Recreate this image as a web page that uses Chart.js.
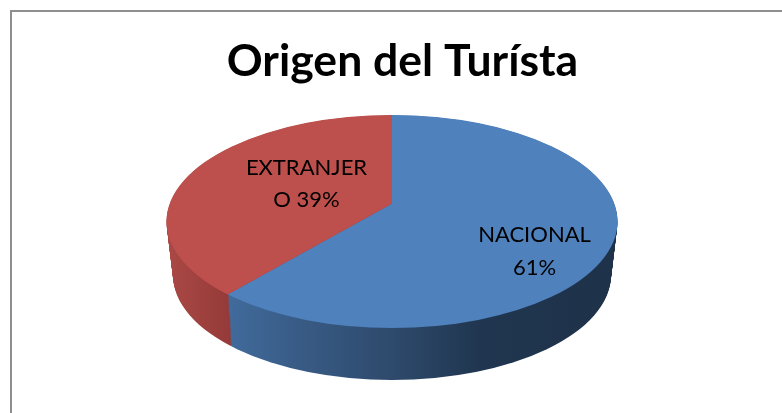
<!DOCTYPE html>
<html>
<head>
<meta charset="utf-8">
<script src="https://cdn.jsdelivr.net/npm/chart.js@4"></script>
<style>
  html, body { margin: 0; padding: 0; width: 782px; height: 413px; overflow: hidden; background: #fff; }
  #frame { position: absolute; left: 10px; top: 10px; width: 800px; height: 420px; border-left: 2px solid #8e8e8e; border-top: 2px solid #8e8e8e; }
  canvas { position: absolute; left: 0; top: 0; }
</style>
</head>
<body>
<div id="frame"></div>
<canvas id="pie" width="782" height="413"></canvas>
<script>
const chartTitle = 'Origen del Turísta';
const categories = ['NACIONAL', 'EXTRANJERO'];
const shares = [61, 39];
const topColors = ['#4f81bd', '#bd4f4c'];
const labelLines = [['NACIONAL', '61%'], ['EXTRANJER', 'O 39%']];

// look of the fake 3D disc, in page pixels
const topFace = { x: 392, y: 221.5, rx: 225.5, ry: 106.5 };
const bottomFace = { x: 392, y: 275, rx: 219, ry: 105 };
const apexAbove = 18; // the wedges meet a bit above the middle of the ellipse
const labelSpots = [[534.5, 235, 268], [306.5, 168, 200]];

const sideStops = [
  [[228, '#416b9c'], [300, '#385b85'], [391, '#2e4a6c'], [480, '#203650'], [610, '#1e3249']],
  [[170, '#a94845'], [232, '#943a38']]
];

function drawWedges(chart, face, colorFor) {
  const ctx = chart.ctx;
  const arcs = chart.getDatasetMeta(0).data;
  const scale = 290 / arcs[0].outerRadius;
  ctx.save();
  ctx.beginPath();
  ctx.ellipse(face.x, face.y, face.rx, face.ry, 0, 0, Math.PI * 2);
  ctx.clip();
  ctx.translate(face.x, face.y - apexAbove);
  ctx.scale(scale, scale * 0.458);
  ctx.translate(-arcs[0].x, -arcs[0].y);
  arcs.forEach(function (arc, i) {
    const view = Object.create(arc);
    view.options = Object.assign({}, arc.options, { backgroundColor: colorFor(i, arc, scale) });
    view.draw(ctx);
  });
  ctx.restore();
}

const disc3d = {
  id: 'disc3d',
  beforeDatasetsDraw(chart) {
    const ctx = chart.ctx;
    const sideColor = function (i, arc, scale) {
      const toLocal = function (x) { return arc.x + (x - topFace.x) / scale; };
      const stops = sideStops[i];
      const g = ctx.createLinearGradient(toLocal(stops[0][0]), 0, toLocal(stops[stops.length - 1][0]), 0);
      stops.forEach(function (s) {
        g.addColorStop((s[0] - stops[0][0]) / (stops[stops.length - 1][0] - stops[0][0]), s[1]);
      });
      return g;
    };
    const depth = bottomFace.y - topFace.y;
    for (let d = depth; d > 0; d--) {
      const t = d / depth;
      drawWedges(chart, {
        x: topFace.x,
        y: topFace.y + d,
        rx: topFace.rx + (bottomFace.rx - topFace.rx) * t,
        ry: topFace.ry + (bottomFace.ry - topFace.ry) * t
      }, sideColor);
    }
    drawWedges(chart, topFace, function (i) { return topColors[i]; });
    return false;
  },
  afterDraw(chart) {
    const ctx = chart.ctx;
    ctx.save();
    ctx.fillStyle = '#000';
    ctx.font = '22px Lato';
    ctx.textAlign = 'center';
    ctx.textBaseline = 'middle';
    labelLines.forEach(function (lines, i) {
      ctx.fillText(lines[0], labelSpots[i][0], labelSpots[i][1]);
      ctx.fillText(lines[1], labelSpots[i][0], labelSpots[i][2]);
    });
    ctx.restore();
  }
};

new Chart(document.getElementById('pie'), {
  type: 'pie',
  data: {
    labels: categories,
    datasets: [{ data: shares, backgroundColor: topColors, borderWidth: 0 }]
  },
  options: {
    responsive: false,
    animation: false,
    layout: { padding: { left: 23 } },
    plugins: {
      legend: { display: false },
      tooltip: { enabled: false },
      title: {
        display: true,
        text: chartTitle,
        color: '#000',
        font: { family: 'Lato', size: 44.5, weight: 'bold' },
        padding: { top: 35, bottom: 10 }
      }
    }
  },
  plugins: [disc3d]
});
</script>
</body>
</html>
